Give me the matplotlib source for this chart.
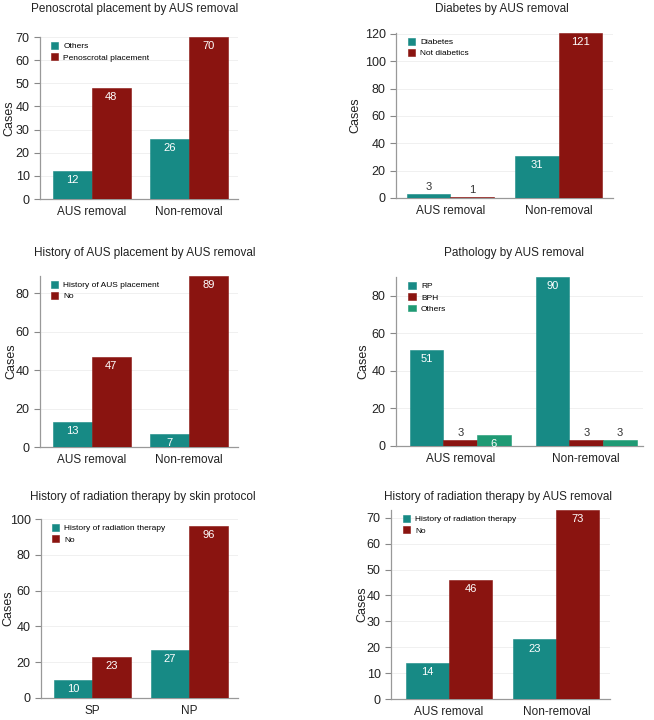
import matplotlib
matplotlib.use('Agg')
import matplotlib.pyplot as plt
import numpy as np

plt.rcParams['font.family'] = ['Liberation Sans', 'DejaVu Sans']

teal = '#178a85'
red = '#8a1410'
green = '#1f9a74'

# data
groups_aus = ['AUS removal', 'Non-removal']
groups_skin = ['SP', 'NP']

peno_labels = ['Others', 'Penoscrotal placement']
peno_vals = [[12, 26], [48, 70]]

diab_labels = ['Diabetes', 'Not diabetics']
diab_vals = [[3, 31], [1, 121]]

hist_labels = ['History of AUS placement', 'No']
hist_vals = [[13, 7], [47, 89]]

path_labels = ['RP', 'BPH', 'Others']
path_vals = [[51, 90], [3, 3], [6, 3]]

rad_labels = ['History of radiation therapy', 'No']
rad_skin_vals = [[10, 27], [23, 96]]
rad_aus_vals = [[14, 23], [46, 73]]

W, H = 654, 720
fig = plt.figure(figsize=(W / 100, H / 100), dpi=100)


def panel(box, title, title_xy, ylab_x, cats, labels, vals, colors, ylim, yticks, xlim):
    left, right, bottom, top = box
    ax = fig.add_axes([left / W, 1 - bottom / H, (right - left) / W, (bottom - top) / H])
    n = len(vals)
    width = 0.8 / n
    x = np.arange(len(cats))
    for i, (lab, v, c) in enumerate(zip(labels, vals, colors)):
        pos = x - 0.4 + width * (i + 0.5)
        bars = ax.bar(pos, v, width, color=c, label=lab, edgecolor=c, linewidth=0.4, zorder=3)
        for b, val in zip(bars, v):
            if val >= 5:
                ax.annotate(str(val), (b.get_x() + b.get_width() / 2, val), xytext=(0, -3),
                            textcoords='offset points', ha='center', va='top',
                            color='white', fontsize=8, zorder=4)
            else:
                ax.annotate(str(val), (b.get_x() + b.get_width() / 2, val), xytext=(0, 1.5),
                            textcoords='offset points', ha='center', va='bottom',
                            color='#333333', fontsize=8, zorder=4)
    ax.set_ylim(*ylim)
    ax.set_xlim(*xlim)
    ax.set_yticks(yticks)
    ax.set_xticks(x)
    ax.set_xticklabels(cats)
    ax.tick_params(axis='x', length=0, labelsize=8.5, colors='#222222', pad=5)
    ax.tick_params(axis='y', length=4, width=0.8, color='#888888', labelsize=9, labelcolor='#222222')
    for s in ['top', 'right']:
        ax.spines[s].set_visible(False)
    for s in ['left', 'bottom']:
        ax.spines[s].set_color('#999999')
        ax.spines[s].set_linewidth(0.9)
    ax.grid(axis='y', color='#eeeeee', linewidth=0.6, zorder=0)
    ax.set_ylabel('Cases', fontsize=9, color='#222222')
    # label anchor is its right edge
    ax.yaxis.set_label_coords((ylab_x + 6 - left) / (right - left), 0.5)
    ax.legend(loc='upper left', frameon=False, fontsize=6, handlelength=0.9, handleheight=0.9,
              handletextpad=0.6, labelspacing=0.35, borderaxespad=0.2, bbox_to_anchor=(0.03, 1.0))
    fig.text(title_xy[0] / W, 1 - title_xy[1] / H, title, ha='center', va='center',
             fontsize=8.5, color='#222222')
    return ax


panel((40, 238, 199, 37), 'Penoscrotal placement by AUS removal', (135, 9), 9,
      groups_aus, peno_labels, peno_vals, [teal, red], (0, 70), range(0, 71, 10), (-0.53, 1.5))
panel((396, 613, 198, 32.6), 'Diabetes by AUS removal', (502, 9), 355,
      groups_aus, diab_labels, diab_vals, [teal, red], (0, 121), range(0, 121, 20), (-0.5, 1.5))
panel((40, 238, 447, 275.7), 'History of AUS placement by AUS removal', (145, 253), 11,
      groups_aus, hist_labels, hist_vals, [teal, red], (0, 89), range(0, 81, 20), (-0.53, 1.5))
panel((396, 643, 446, 277), 'Pathology by AUS removal', (514, 253), 363,
      groups_aus, path_labels, path_vals, [teal, red, green], (0, 90), range(0, 81, 20), (-0.51, 1.45))
panel((41, 238, 698, 519), 'History of radiation therapy by skin protocol', (143, 497), 8,
      groups_skin, rad_labels, rad_skin_vals, [teal, red], (0, 100), range(0, 101, 20), (-0.53, 1.5))
panel((391, 610, 699, 510), 'History of radiation therapy by AUS removal', (498, 497), 362,
      groups_aus, rad_labels, rad_aus_vals, [teal, red], (0, 73), range(0, 71, 10), (-0.54, 1.5))

fig.savefig('out.png', dpi=100)
